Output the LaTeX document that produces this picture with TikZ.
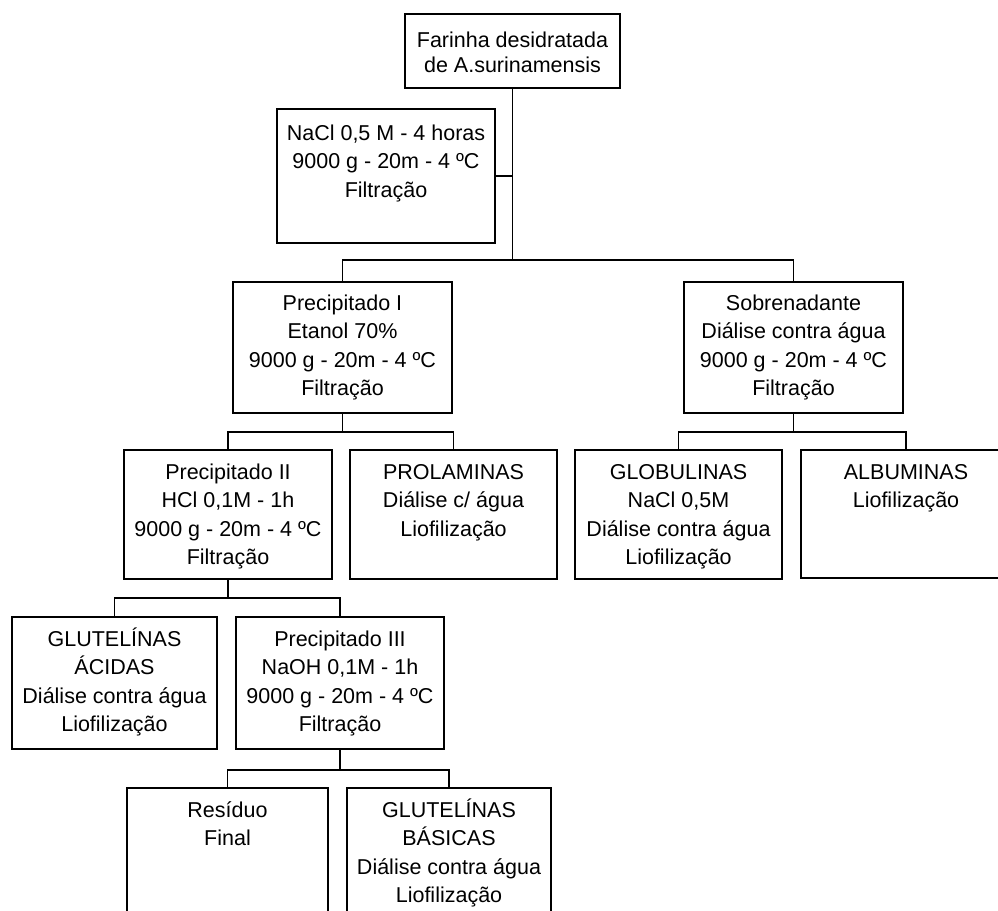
\documentclass[tikz,border=0pt]{standalone}
\usepackage{fontspec}
\setmainfont{Liberation Sans}
\newcommand\fstrut{\rule{0pt}{20pt}}
\begin{document}
\begin{tikzpicture}[x=1pt,y=-1pt,
  box/.style={draw, line width=1.3pt, inner sep=0pt, outer sep=0pt},
  txt/.style={anchor=north, inner sep=0pt, align=center, font=\fontsize{21.5}{28.5}\selectfont},
  conn/.style={line width=1.3pt}]
\useasboundingbox (0,0) rectangle (998,910);
\fill[white] (0,0) rectangle (998,910);
\clip (0,0) rectangle (998,910);

% boxes
\node[box, minimum width=215pt, minimum height=74pt]  (far)  at (512.5,51) {};
\node[box, minimum width=218pt, minimum height=134pt] (nacl) at (386,176) {};
\node[box, minimum width=219pt, minimum height=131pt] (p1)   at (342.5,347.5) {};
\node[box, minimum width=219pt, minimum height=131pt] (sob)  at (793.5,347.5) {};
\node[box, minimum width=208pt, minimum height=129pt] (p2)   at (228,514.5) {};
\node[box, minimum width=207pt, minimum height=129pt] (prol) at (453.5,514.5) {};
\node[box, minimum width=207pt, minimum height=129pt] (glob) at (678.5,514.5) {};
\node[box, minimum width=210pt, minimum height=128pt] (alb)  at (906,514) {};
\node[box, minimum width=205pt, minimum height=132pt] (gac)  at (114.5,683) {};
\node[box, minimum width=208pt, minimum height=132pt] (p3)   at (340,683) {};
\node[box, minimum width=201pt, minimum height=160pt] (res)  at (227.5,868) {};
\node[box, minimum width=204pt, minimum height=160pt] (gbas) at (449,868) {};

% texts
\node[txt, font=\fontsize{21.5}{25}\selectfont] (farT) at ([yshift=-13pt]far.north) {\fstrut Farinha desidratada\\de A.surinamensis};
\node[txt] (naclT) at ([yshift=-11pt]nacl.north) {\fstrut NaCl 0,5 M - 4 horas\\9000 g - 20m - 4 ºC\\Filtração};
\node[txt] (p1T) at ([yshift=-8pt]p1.north) {\fstrut Precipitado I\\Etanol 70\%\\9000 g - 20m - 4 ºC\\Filtração};
\node[txt] (sobT) at ([yshift=-8pt]sob.north) {\fstrut Sobrenadante\\Diálise contra água\\9000 g - 20m - 4 ºC\\Filtração};
\node[txt] (p2T) at ([yshift=-9pt]p2.north) {\fstrut Precipitado II\\HCl 0,1M - 1h\\9000 g - 20m - 4 ºC\\Filtração};
\node[txt] (prolT) at ([yshift=-9pt]prol.north) {\fstrut PROLAMINAS\\Diálise c/ água\\Liofilização};
\node[txt] (globT) at ([yshift=-9pt]glob.north) {\fstrut GLOBULINAS\\NaCl 0,5M\\Diálise contra água\\Liofilização};
\node[txt] (albT) at ([yshift=-9pt]alb.north) {\fstrut ALBUMINAS\\Liofilização};
\node[txt] (gacT) at ([yshift=-9pt]gac.north) {\fstrut GLUTELÍNAS\\ÁCIDAS\\Diálise contra água\\Liofilização};
\node[txt] (p3T) at ([yshift=-9pt]p3.north) {\fstrut Precipitado III\\NaOH 0,1M - 1h\\9000 g - 20m - 4 ºC\\Filtração};
\node[txt] (resT) at ([yshift=-9pt]res.north) {\fstrut Resíduo\\Final};
\node[txt] (gbasT) at ([yshift=-9pt]gbas.north) {\fstrut GLUTELÍNAS\\BÁSICAS\\Diálise contra água\\Liofilização};

% junctions
\coordinate (j1) at (512.5,260);
\coordinate (j2) at (342.5,432);
\coordinate (j3) at (793.5,432);
\coordinate (j4) at (228,598);
\coordinate (j5) at (340,770);

% connectors
\draw[conn] (far.south) -- (j1);
\draw[conn] (nacl.east) -- (nacl.east -| far.south);
\draw[conn] (p1.north) |- (j1) -| (sob.north);
\draw[conn] (p1.south) -- (j2);
\draw[conn] (p2.north) |- (j2) -| (prol.north);
\draw[conn] (sob.south) -- (j3);
\draw[conn] (glob.north) |- (j3) -| (alb.north);
\draw[conn] (p2.south) -- (j4);
\draw[conn] (gac.north) |- (j4) -| (p3.north);
\draw[conn] (p3.south) -- (j5);
\draw[conn] (res.north) |- (j5) -| (gbas.north);
\end{tikzpicture}
\end{document}
